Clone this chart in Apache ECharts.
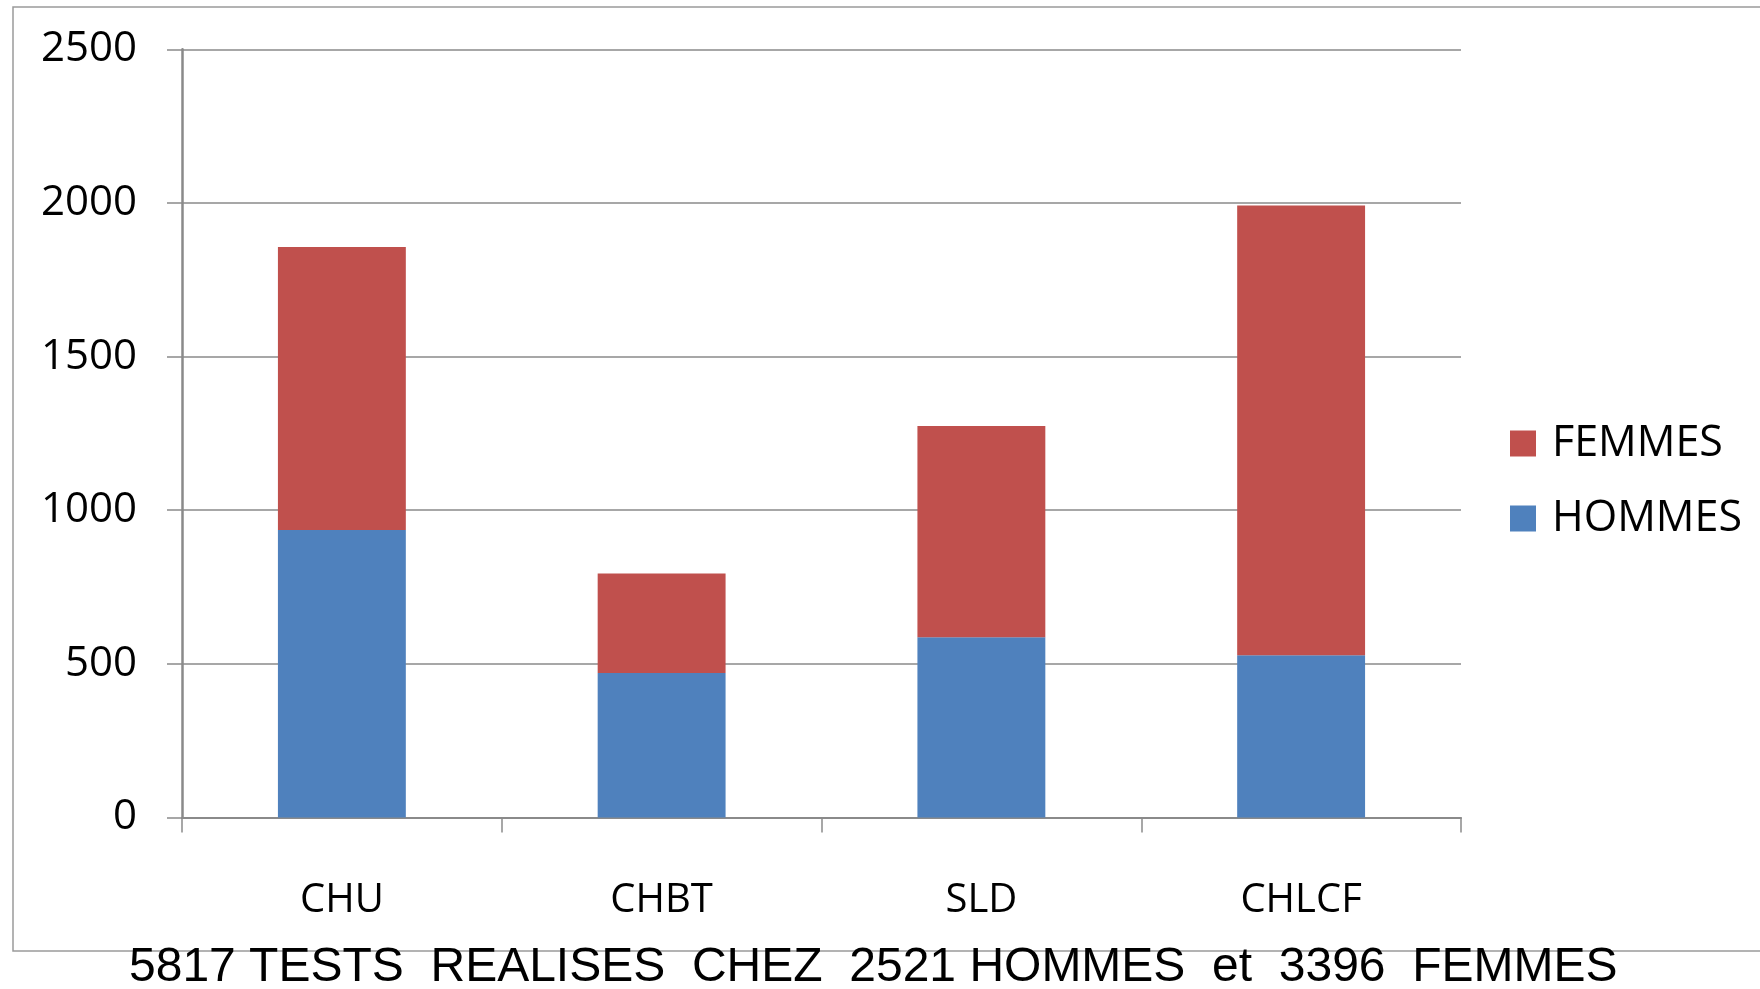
<!DOCTYPE html>
<html>
<head>
<meta charset="utf-8">
<title>Tests réalisés par établissement</title>
<script src="https://cdn.jsdelivr.net/npm/echarts@6/dist/echarts.min.js"></script>
<style>
  html, body { margin: 0; padding: 0; background: #ffffff; }
  #chart { width: 1760px; height: 989px; }
</style>
</head>
<body>
<div id="chart"></div>
<script>
// Établissements (catégories de l'axe horizontal)
const categories = ['CHU', 'CHBT', 'SLD', 'CHLCF'];
// Nombre de tests par sexe et par établissement
const hommes = [936, 470, 587, 528];
const femmes = [921, 324, 687, 1464];
// Axe vertical
const yMin = 0;
const yMax = 2500;
const yStep = 500;
const caption = '5817 TESTS  REALISES  CHEZ  2521 HOMMES  et  3396  FEMMES';

const gridColor = '#8a8a8a';
const sansFont = 'Open Sans';

const chart = echarts.init(document.getElementById('chart'), null, { renderer: 'canvas' });

chart.setOption({
  backgroundColor: '#ffffff',
  animation: false,
  grid: { left: 182, right: 299, top: 49.3, bottom: 171.5, containLabel: false },
  legend: {
    orient: 'vertical',
    left: 1510,
    top: 422,
    padding: 0,
    itemWidth: 26,
    itemHeight: 26,
    itemGap: 32,
    icon: 'rect',
    data: ['FEMMES', 'HOMMES'],
    textStyle: {
      fontFamily: sansFont,
      fontSize: 43,
      lineHeight: 40,
      color: '#000000',
      padding: [0, 0, 0, 11]
    }
  },
  xAxis: {
    type: 'category',
    data: categories,
    boundaryGap: true,
    axisLine: { show: true, lineStyle: { color: gridColor, width: 2 } },
    axisTick: { show: true, inside: false, length: 15, alignWithLabel: false, lineStyle: { color: gridColor, width: 1.5 } },
    axisLabel: {
      margin: 83,
      verticalAlign: 'middle',
      fontFamily: sansFont,
      fontSize: 40,
      color: '#000000'
    },
    splitLine: { show: false }
  },
  yAxis: {
    type: 'value',
    min: yMin,
    max: yMax,
    interval: yStep,
    axisLine: { show: true, lineStyle: { color: gridColor, width: 2.5 } },
    axisTick: { show: true, inside: false, length: 15, lineStyle: { color: gridColor, width: 1.5 } },
    axisLabel: {
      margin: 45,
      padding: [5, 0, 0, 0],
      fontFamily: sansFont,
      fontSize: 42,
      color: '#000000',
      formatter: (v) => String(v)
    },
    splitLine: { show: true, lineStyle: { color: gridColor, width: 1.5 } }
  },
  series: [
    {
      name: 'HOMMES',
      type: 'bar',
      stack: 'total',
      barWidth: '40%',
      data: hommes,
      itemStyle: { color: '#4F81BD' }
    },
    {
      name: 'FEMMES',
      type: 'bar',
      stack: 'total',
      barWidth: '40%',
      data: femmes,
      itemStyle: { color: '#C0504D' }
    }
  ],
  graphic: [
    {
      type: 'rect',
      z: -1,
      shape: { x: 13, y: 7, width: 1800, height: 944 },
      style: { fill: 'none', stroke: '#9a9a9a', lineWidth: 1.5 }
    },
    {
      type: 'text',
      z: 10,
      x: 129,
      y: 968,
      style: {
        text: caption,
        fontFamily: 'Liberation Sans',
        fontSize: 48,
        fill: '#000000',
        textAlign: 'left',
        textVerticalAlign: 'middle'
      }
    }
  ]
});
</script>
</body>
</html>
